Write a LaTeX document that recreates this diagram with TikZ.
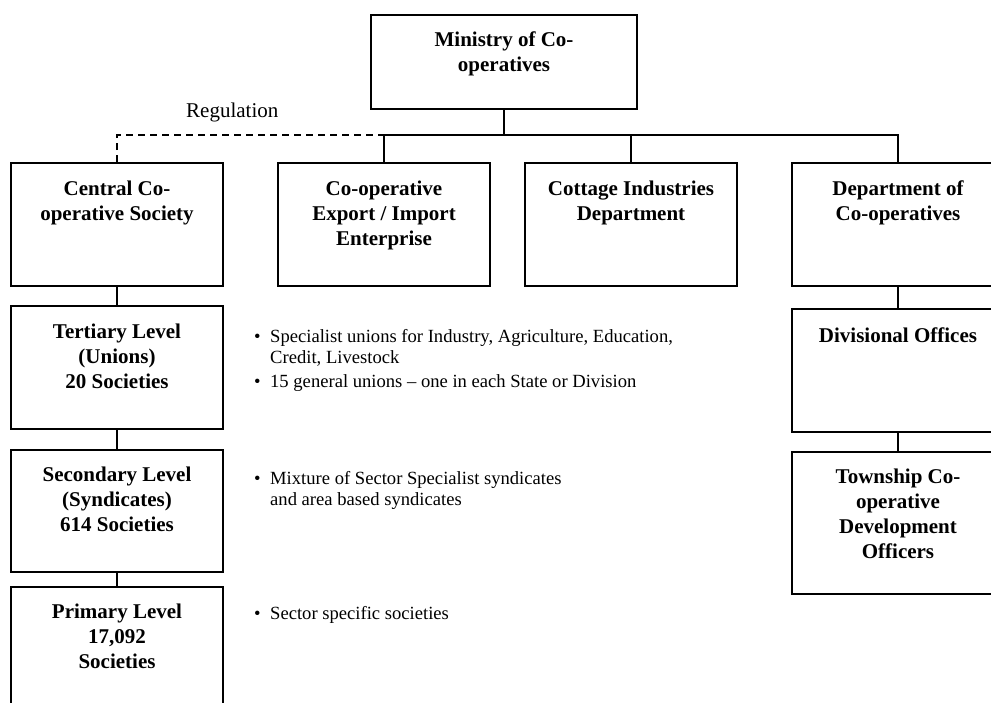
\documentclass[tikz,border=0pt]{standalone}
\usepackage{fontspec}
\setmainfont{Liberation Serif}
\begin{document}
\begin{tikzpicture}[x=1pt, y=-1pt,
    orgbox/.style={draw, line width=2pt, minimum width=212pt, inner sep=0pt,
      text height=57pt, text depth=66pt, align=center, anchor=north,
      font=\bfseries\fontsize{21}{25}\selectfont},
    note/.style={anchor=base west, inner sep=0pt, font=\fontsize{18.6}{21.5}\selectfont},
    link/.style={line width=2pt}]
  \useasboundingbox (0,0) rectangle (991,702);
  \clip (0,0) rectangle (991,702);
  \draw
    (504,14) node[orgbox, minimum width=266pt, text height=56pt, text depth=38pt] (ministry) {Ministry of Co-\\operatives}
    (117,162) node[orgbox] (central) {Central Co-\\operative Society}
    (384,162) node[orgbox, text height=82pt, text depth=41pt] (export) {Co-operative\\Export / Import\\Enterprise}
    (631,162) node[orgbox] (cottage) {Cottage Industries\\Department}
    (898,162) node[orgbox] (dept) {Department of\\Co-operatives}
    (117,305) node[orgbox, text height=82pt, text depth=41pt] (tertiary) {Tertiary Level\\(Unions)\\20 Societies}
    (117,449) node[orgbox, text height=81pt, text depth=41pt] (secondary) {Secondary Level\\(Syndicates)\\614 Societies}
    (117,586) node[orgbox, text height=81pt, text depth=42pt] (primary) {Primary Level\\17,092\\Societies}
    (898,308) node[orgbox, text height=33pt, text depth=90pt] (divisional) {Divisional Offices}
    (898,451) node[orgbox, text height=106pt, text depth=36pt] (township) {Township Co-\\operative\\Development\\Officers};
  \draw
    (186,117) node[note, font=\fontsize{21}{25}\selectfont] (regulation) {Regulation}
    (254,342) node[note] (unionnote) {\begin{tabular}[t]{@{}p{16pt}@{}l@{}}
      \textbullet & Specialist unions for Industry, Agriculture, Education,\\
      & Credit, Livestock\\[2.5pt]
      \textbullet & 15 general unions -- one in each State or Division\end{tabular}}
    (254,484) node[note] (syndicatenote) {\begin{tabular}[t]{@{}p{16pt}@{}l@{}}
      \textbullet & Mixture of Sector Specialist syndicates\\
      & and area based syndicates\end{tabular}}
    (254,619) node[note] (primarynote) {\begin{tabular}[t]{@{}p{16pt}@{}l@{}}
      \textbullet & Sector specific societies\end{tabular}};
  \coordinate (bus) at (0,135);
  \begin{scope}[link]
    \draw (ministry.south) to (ministry.south |- bus);
    \draw (export.north) |- (dept.north |- bus) to (dept.north);
    \draw (cottage.north) to (cottage.north |- bus);
    \draw[dash pattern=on 7pt off 5pt] (central.north) |- (export.north |- bus);
    \draw (central.south) to (tertiary.north);
    \draw (tertiary.south) to (secondary.north);
    \draw (secondary.south) to (primary.north);
    \draw (dept.south) to (divisional.north);
    \draw (divisional.south) to (township.north);
  \end{scope}
\end{tikzpicture}
\end{document}
